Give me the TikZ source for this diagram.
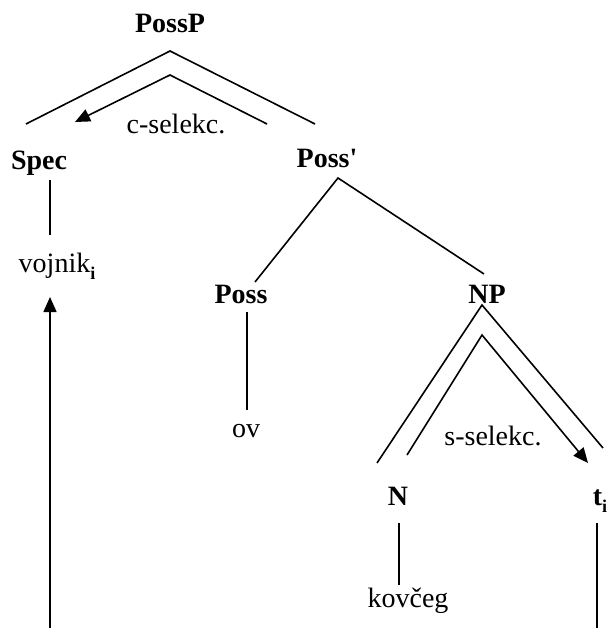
\documentclass[tikz,border=0pt]{standalone}
\usepackage{fontspec}
\setmainfont{Liberation Serif}[Ligatures=TeXOff]
\usetikzlibrary{arrows.meta}
\newcommand{\subi}{\raisebox{-0.28em}{\fontsize{18}{18}\selectfont\bfseries i}}
\begin{document}
\begin{tikzpicture}[x=1pt,y=-1pt,
  lab/.style={anchor=base,inner sep=0pt,font=\fontsize{28}{32}\selectfont\bfseries},
  word/.style={anchor=base,inner sep=0pt,font=\fontsize{28}{32}\selectfont},
  edge/.style={line width=1.6pt},
  sel/.style={line width=1.6pt,-{Triangle[length=15pt,width=13pt]}}]
\useasboundingbox (0,0) rectangle (609,628);
% nodes
\node[lab]  (possp) at (170,33) {PossP};
\node[lab]  (spec)  at (39,170) {Spec};
\node[lab]  (possb) at (327,168) {Poss'};
\node[word] (vojnik) at (57,272) {vojnik\subi};
\node[lab]  (poss)  at (241,303) {Poss};
\node[lab]  (np)    at (487,303) {NP};
\node[word] (ov)    at (246,437) {ov};
\node[lab]  (n)     at (398,505) {N};
\node[lab]  (t)     at (600,505) {t\subi};
\node[word] (kov)   at (408,607) {kovčeg};
\node[word] (csel)  at (176,134) {c-selekc.};
\node[word] (ssel)  at (493,445) {s-selekc.};
% coordinates
\coordinate (pA) at (170,51);
\coordinate (pL) at (26,124);
\coordinate (pR) at (315,124);
\coordinate (ciA) at (170,75);
\coordinate (ciL) at (75,122);
\coordinate (ciR) at (267,124);
\coordinate (sT) at (50,180);
\coordinate (sB) at (50,235);
\coordinate (qA) at (338,178);
\coordinate (qL) at (255,282);
\coordinate (qR) at (484,274);
\coordinate (poT) at (247,312);
\coordinate (poB) at (247,410);
\coordinate (nA) at (482,305);
\coordinate (nL) at (377,463);
\coordinate (nR) at (603,448);
\coordinate (siA) at (482,335);
\coordinate (siL) at (407,455);
\coordinate (siR) at (588,463);
\coordinate (nT) at (399,523);
\coordinate (nB) at (399,585);
\coordinate (tT) at (597,523);
\coordinate (tB) at (597,628);
\coordinate (mB) at (50,628);
\coordinate (mT) at (50,297);
% edges
\draw[edge] (pL) -- (pA) -- (pR);
\draw[sel] (ciR) -- (ciA) -- (ciL);
\draw[edge] (sT) -- (sB);
\draw[edge] (qL) -- (qA) -- (qR);
\draw[edge] (poT) -- (poB);
\draw[edge] (nL) -- (nA) -- (nR);
\draw[sel] (siL) -- (siA) -- (siR);
\draw[edge] (nT) -- (nB);
\draw[edge] (tT) -- (tB);
\draw[sel] (mB) -- (mT);
\end{tikzpicture}
\end{document}
